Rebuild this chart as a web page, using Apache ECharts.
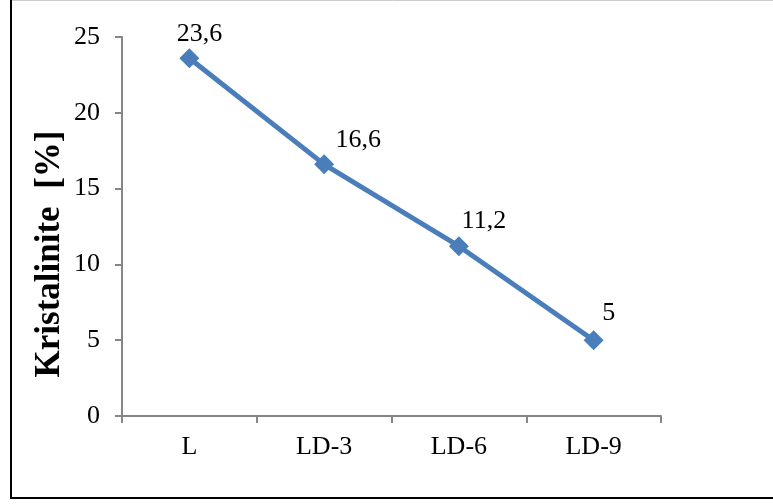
<!DOCTYPE html>
<html>
<head>
<meta charset="utf-8">
<script src="https://cdn.jsdelivr.net/npm/echarts@6/dist/echarts.min.js"></script>
<style>
  html, body { margin: 0; padding: 0; background: #fff; }
  #chart { width: 773px; height: 504px; }
</style>
</head>
<body>
<div id="chart"></div>
<script>
// Sample categories and crystallinity values (%)
const categories = ['L', 'LD-3', 'LD-6', 'LD-9'];
const crystallinity = [23.6, 16.6, 11.2, 5];
const yTicks = { min: 0, max: 25, interval: 5 };
const axisTitle = 'Kristalinite  [%]';

// Per-point label nudges so the values sit up and to the right of each marker
const labelOffsets = [[10, 3], [34, 3], [25, 2], [15, 0]];

const serif = '"Liberation Serif", "Times New Roman", serif';
const axisGray = '#868686';
const lineBlue = '#4a7ebb';

const chart = echarts.init(document.getElementById('chart'), null, { renderer: 'canvas' });

chart.setOption({
  animation: false,
  backgroundColor: '#fff',
  grid: { left: 122, right: 112, top: 37, bottom: 88, containLabel: false },
  xAxis: {
    type: 'category',
    data: categories,
    boundaryGap: true,
    axisLine: { lineStyle: { color: axisGray, width: 2 } },
    axisTick: { show: true, alignWithLabel: false, length: 7, lineStyle: { color: axisGray, width: 2 } },
    axisLabel: { color: '#000', fontFamily: serif, fontSize: 26, margin: 18 },
    splitLine: { show: false }
  },
  yAxis: {
    type: 'value',
    min: yTicks.min,
    max: yTicks.max,
    interval: yTicks.interval,
    axisLine: { show: true, lineStyle: { color: axisGray, width: 2 } },
    axisTick: { show: true, length: 7, lineStyle: { color: axisGray, width: 2 } },
    axisLabel: { color: '#000', fontFamily: serif, fontSize: 26, margin: 22 },
    splitLine: { show: false }
  },
  series: [{
    type: 'line',
    data: crystallinity.map((v, i) => ({
      value: v,
      label: { offset: labelOffsets[i] }
    })),
    symbol: 'diamond',
    symbolSize: [20, 20],
    lineStyle: { color: lineBlue, width: 5 },
    itemStyle: { color: lineBlue },
    label: {
      show: true,
      position: 'top',
      distance: 4,
      color: '#000',
      fontFamily: serif,
      fontSize: 26,
      formatter: p => String(p.value).replace('.', ',')
    }
  }],
  graphic: [
    {
      type: 'rect',
      shape: { x: 11, y: -2, width: 820, height: 500 },
      style: { fill: 'none', stroke: '#000', lineWidth: 2 },
      silent: true
    },
    {
      type: 'line',
      shape: { x1: 12, y1: 0.5, x2: 773, y2: 0.5 },
      style: { stroke: '#cccccc', lineWidth: 1 },
      silent: true
    },
    {
      type: 'text',
      x: 50,
      y: 254,
      rotation: Math.PI / 2,
      style: {
        text: axisTitle,
        fontFamily: serif,
        fontWeight: 'bold',
        fontSize: 35,
        fill: '#000',
        align: 'center',
        verticalAlign: 'middle'
      }
    }
  ]
});
</script>
</body>
</html>
